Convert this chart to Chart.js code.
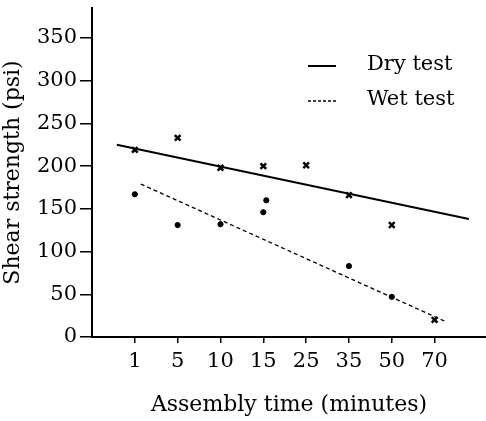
<!DOCTYPE html>
<html lang="en">
<head>
  <meta charset="UTF-8">
  <title>Shear strength vs assembly time</title>
  <script src="https://cdn.jsdelivr.net/npm/chart.js"></script>
  <style>
    html, body { margin: 0; background: #fff; overflow: hidden; }
    canvas { display: block; }
  </style>
</head>
<body>
<canvas id="shearChart" width="486" height="421"></canvas>
<script>
  // assembly time categories (evenly spaced on the axis)
  const timeLabels = ['1', '5', '10', '15', '25', '35', '50', '70'];
  const yTicks = [0, 50, 100, 150, 200, 250, 300, 350];

  // measured points: x = category index
  const dryX = [0, 1, 2, 3, 4, 5, 6, 7];
  const dryY = [219, 233, 198, 200, 201, 166, 131, 20];
  const wetX = [0, 1, 2, 3, 3.07, 5, 6];
  const wetY = [167, 131, 132, 146, 160, 83, 47];

  // fitted lines (start/end)
  const dryFitX = [-0.42, 7.8];
  const dryFitY = [225, 138];
  const wetFitX = [0.14, 7.26];
  const wetFitY = [179, 18];

  const pts = (xs, ys) => xs.map((x, i) => ({ x: x, y: ys[i] }));
  const FONT = 'DejaVu Serif';

  // legend drawn inside the plot, like the original
  const legendPlugin = {
    id: 'insideLegend',
    afterDraw(chart) {
      const c = chart.ctx;
      c.save();
      c.strokeStyle = '#000';
      c.fillStyle = '#000';
      c.font = '21px "' + FONT + '"';
      c.textBaseline = 'middle';
      c.lineWidth = 2;
      c.beginPath(); c.moveTo(308, 66); c.lineTo(336, 66); c.stroke();
      c.fillText('Dry test', 367, 65);
      c.lineWidth = 1.3;
      c.setLineDash([3, 2]);
      c.beginPath(); c.moveTo(308, 101); c.lineTo(336, 101); c.stroke();
      c.setLineDash([]);
      c.fillText('Wet test', 367, 100);
      c.restore();
    }
  };

  new Chart(document.getElementById('shearChart'), {
    type: 'scatter',
    data: {
      datasets: [
        {
          type: 'line',
          data: pts(dryFitX, dryFitY),
          borderColor: '#000',
          borderWidth: 2,
          pointRadius: 0
        },
        {
          type: 'line',
          data: pts(wetFitX, wetFitY),
          borderColor: '#000',
          borderWidth: 1.3,
          borderDash: [4, 3],
          pointRadius: 0
        },
        {
          data: pts(dryX, dryY),
          pointStyle: 'crossRot',
          pointRadius: 4,
          borderColor: '#000',
          pointBorderWidth: 2.5
        },
        {
          data: pts(wetX, wetY),
          pointStyle: 'circle',
          pointRadius: 2.6,
          backgroundColor: '#000',
          borderColor: '#000'
        }
      ]
    },
    options: {
      responsive: false,
      animation: false,
      layout: { autoPadding: false, padding: { top: 8, right: 0, left: 0, bottom: 0 } },
      plugins: {
        legend: { display: false },
        tooltip: { enabled: false }
      },
      scales: {
        x: {
          type: 'linear',
          min: -1,
          max: 8.2,
          afterBuildTicks: s => { s.ticks = dryX.map(v => ({ value: v })); },
          afterFit: s => { s.height = 84; s.paddingLeft = 0; s.paddingRight = 0; },
          grid: { drawOnChartArea: false, color: '#000', tickLength: 6, lineWidth: 1.5 },
          border: { color: '#000', width: 2 },
          ticks: {
            color: '#000',
            font: { family: FONT, size: 21 },
            padding: 6,
            autoSkip: false,
            maxRotation: 0,
            callback: v => timeLabels[v] ?? ''
          },
          title: {
            display: true,
            text: 'Assembly time (minutes)',
            color: '#000',
            font: { family: FONT, size: 22 },
            padding: { top: 0, bottom: 3 }
          }
        },
        y: {
          min: 0,
          max: 385,
          afterBuildTicks: s => { s.ticks = yTicks.map(v => ({ value: v })); },
          afterFit: s => { s.width = 92; s.paddingTop = 0; s.paddingBottom = 0; },
          grid: { drawOnChartArea: false, color: '#000', tickLength: 12, lineWidth: 1.5 },
          border: { color: '#000', width: 2 },
          ticks: {
            color: '#000',
            font: { family: FONT, size: 21 },
            padding: 3
          },
          title: {
            display: true,
            text: 'Shear strength (psi)',
            color: '#000',
            font: { family: FONT, size: 22 },
            padding: { top: 0, bottom: 4 }
          }
        }
      }
    },
    plugins: [legendPlugin]
  });
</script>
</body>
</html>
